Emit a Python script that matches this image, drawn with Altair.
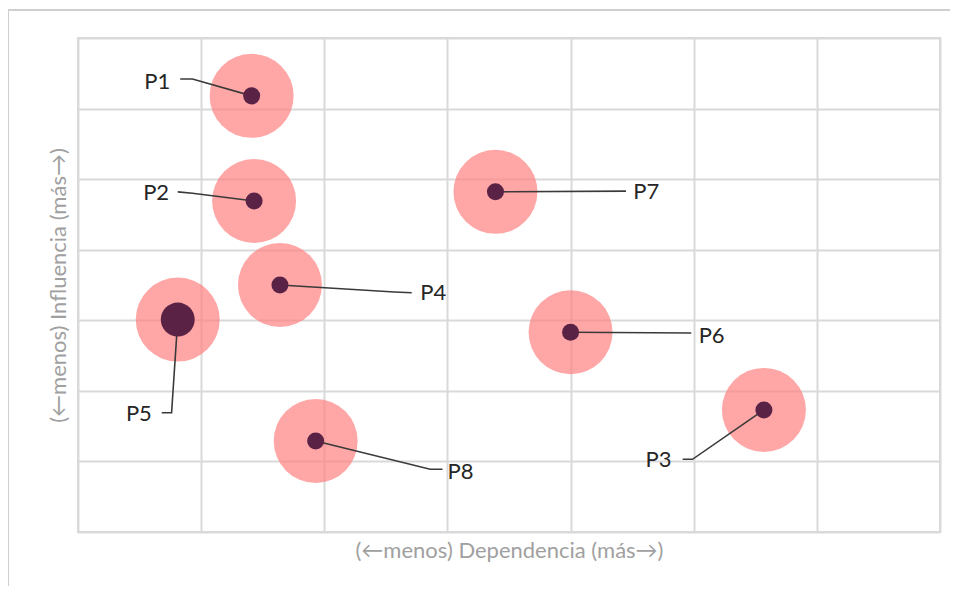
import altair as alt
import pandas as pd

# ---- data ----
labels = ["P1", "P2", "P3", "P4", "P5", "P6", "P7", "P8"]
dependencia = [1.41, 1.43, 5.57, 1.64, 0.81, 4.00, 3.39, 1.93]
influencia = [6.18, 4.69, 1.73, 3.50, 3.01, 2.83, 4.82, 1.29]
peso = [1, 1, 1, 1, 4, 1, 1, 1]

# label anchors (data units) and which side the text hangs from
label_x = [0.75, 0.74, 4.82, 2.78, 0.60, 5.04, 4.51, 3.00]
label_y = [6.38, 4.80, 1.02, 3.39, 1.67, 2.78, 4.82, 0.85]
label_side = ["right", "right", "right", "left", "right", "left", "left", "left"]

# leader lines: point -> elbow (optional) -> end
elbow_x = [0.93, 0.93, 4.99, 2.57, 0.76, None, None, 2.86]
elbow_y = [6.42, 4.80, 1.03, 3.40, 1.69, None, None, 0.89]
end_x = [0.83, 0.81, 4.91, 2.71, 0.68, 4.98, 4.45, 2.96]
end_y = [6.42, 4.82, 1.03, 3.39, 1.69, 2.82, 4.83, 0.89]

x_ticks = [0, 1, 2, 3, 4, 5, 6, 7]
y_ticks = [0, 1, 2, 3, 4, 5, 6, 7]

x_title = "(←menos) Dependencia (más→)"
y_title = "(←menos) Influencia (más→)"

# ---- tables ----
pts = pd.DataFrame({"label": labels, "x": dependencia, "y": influencia, "peso": peso})
lab = pd.DataFrame({"label": labels, "x": label_x, "y": label_y, "side": label_side})

rows = []
for i, l in enumerate(labels):
    seq = [(dependencia[i], influencia[i])]
    if elbow_x[i] is not None:
        seq.append((elbow_x[i], elbow_y[i]))
    seq.append((end_x[i], end_y[i]))
    for k, (a, b) in enumerate(seq):
        rows.append({"label": l, "x": a, "y": b, "o": k})
lead = pd.DataFrame(rows)

W, H = 862, 494
FONT = "Lato"

xs = alt.Scale(domain=[0, 7], nice=False, zero=False)
ys = alt.Scale(domain=[0, 7], nice=False, zero=False)
x_axis = alt.Axis(values=x_ticks, labels=False, ticks=False, domain=False, title=x_title,
                  grid=True, gridColor="#d9d9d9", gridWidth=2, titlePadding=8,
                  minExtent=0, maxExtent=0)
y_axis = alt.Axis(values=y_ticks, labels=False, ticks=False, domain=False, title=y_title,
                  grid=True, gridColor="#d9d9d9", gridWidth=2, titlePadding=8,
                  minExtent=0, maxExtent=0)

X = alt.X("x:Q", scale=xs, axis=x_axis)
Y = alt.Y("y:Q", scale=ys, axis=y_axis)

halo = alt.Chart(pts).mark_circle(color="#ff8080", opacity=0.7).encode(
    x=X, y=Y, size=alt.value(7056)
)

leaders = alt.Chart(lead).mark_line(color="#3a3a3a", strokeWidth=1.6).encode(
    x=X, y=Y, detail="label:N", order="o:Q"
)

dots = alt.Chart(pts).mark_circle(color="#5a2346", opacity=1).encode(
    x=X, y=Y,
    size=alt.Size("peso:Q", scale=alt.Scale(domain=[1, 4], range=[290, 1150]), legend=None),
)

text_r = alt.Chart(lab).transform_filter(alt.datum.side == "right").mark_text(
    font=FONT, fontSize=22, color="#262626", align="right", baseline="middle"
).encode(x=X, y=Y, text="label:N")

text_l = alt.Chart(lab).transform_filter(alt.datum.side == "left").mark_text(
    font=FONT, fontSize=22, color="#262626", align="left", baseline="middle"
).encode(x=X, y=Y, text="label:N")

# outer frame of the original picture
frame_left = alt.Chart(alt.Data(values=[{}])).mark_rule(color="#cfcfcf", strokeWidth=2).encode(
    x=alt.value(-70), y=alt.value(-28), y2=alt.value(H + 60)
)
frame_top = alt.Chart(alt.Data(values=[{}])).mark_rule(color="#cfcfcf", strokeWidth=2).encode(
    x=alt.value(-70), x2=alt.value(W + 20), y=alt.value(-28)
)

chart = alt.layer(frame_left, frame_top, halo, leaders, dots, text_r, text_l).properties(
    width=W, height=H,
    autosize=alt.AutoSizeParams(type="none"),
    padding={"left": 70, "top": 30, "right": 10, "bottom": 54},
).configure_view(
    stroke="#d9d9d9", strokeWidth=2
).configure_axis(
    titleFont=FONT, titleFontSize=22, titleFontWeight="normal", titleColor="#a0a0a0"
)

chart.save("out.html", embed_options={"renderer": "svg", "actions": False})
